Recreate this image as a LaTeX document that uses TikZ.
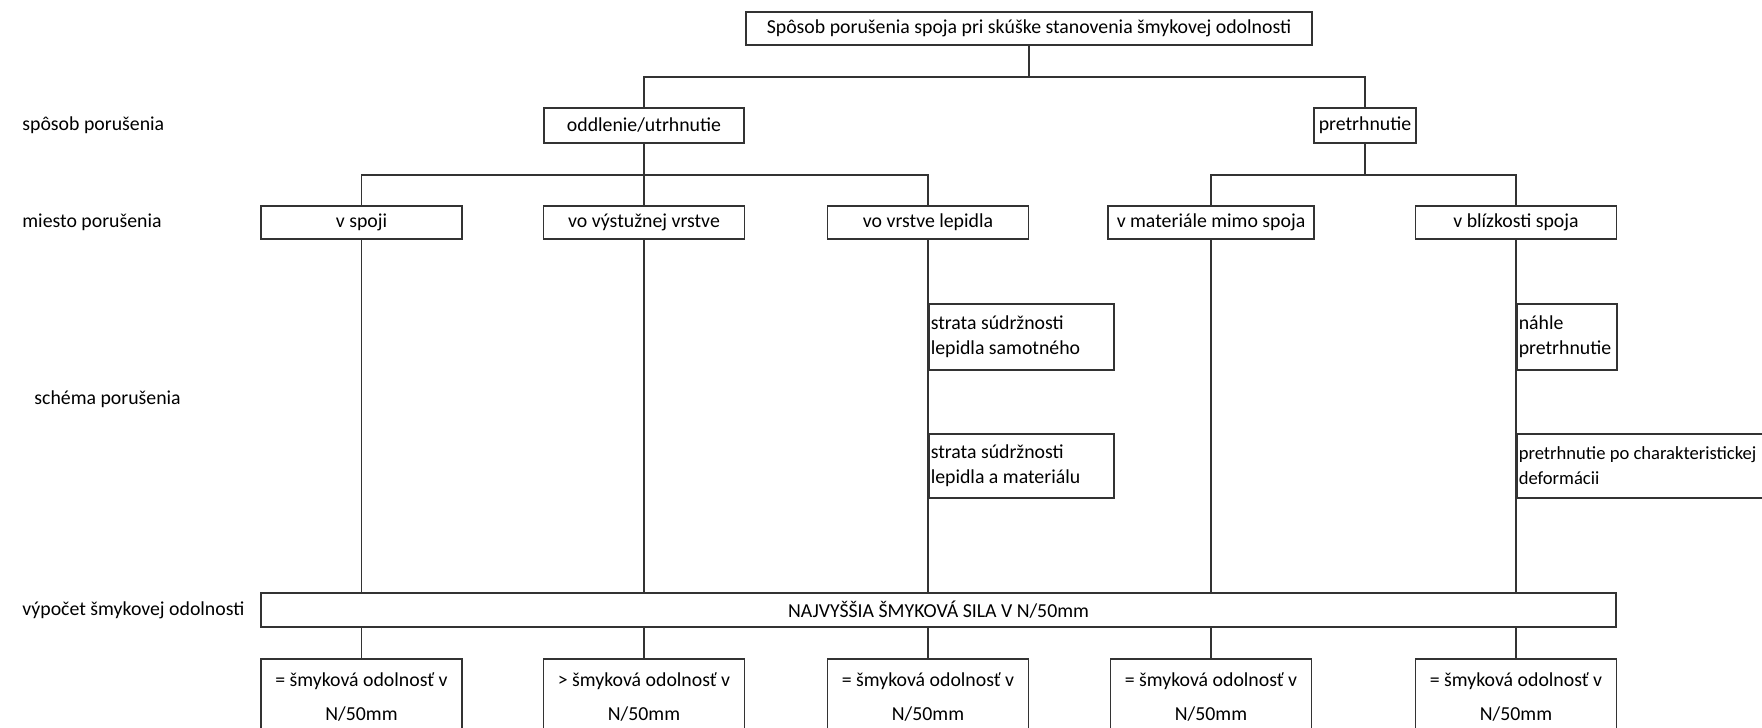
\documentclass[tikz,border=0pt]{standalone}
\usepackage{fontspec}
\setmainfont{Carlito}
\usetikzlibrary{positioning}
\tikzstyle{box}=[draw=black!80, line width=0.75pt, inner sep=1pt, font=\fontsize{9.9}{12.5}\selectfont]
\tikzstyle{cbox}=[box, minimum height=16.5pt, minimum width=100.5pt]
\tikzstyle{tbox}=[box, anchor=north west, align=flush left, minimum height=33pt]
\tikzstyle{rbox}=[box, anchor=north, align=center, minimum height=38pt, minimum width=100.5pt]
\tikzstyle{link}=[draw=black!80, line width=0.75pt]
\tikzstyle{rowlabel}=[anchor=west, inner sep=0pt, font=\fontsize{9.9}{12.5}\selectfont]

\begin{document}
\begin{tikzpicture}[x=0.5pt,y=-0.5pt]
        \clip (0,0) rectangle (1762,728);
        % \draw[help lines] (0,0) grid[step=100] (1762,728);

        \node[rowlabel] (l1) at (22,125) {spôsob porušenia};
        \node[rowlabel] (l2) at (22,222) {miesto porušenia};
        \node[rowlabel] (l3) at (34,399) {schéma porušenia};
        \node[rowlabel] (l4) at (22,610) {výpočet šmykovej odolnosti};

        \node[box, minimum width=283pt, minimum height=16.5pt] (top) at (1029,28.5) {Spôsob porušenia spoja pri skúške stanovenia šmykovej odolnosti};

        \node[box, minimum width=100pt, minimum height=17.5pt] (odd) at (644,125.5) {oddlenie/utrhnutie};
        \node[box, minimum width=51pt, minimum height=17.5pt] (pre) at (1365,125.5) {pretrhnutie};

        \node[cbox] (spoji) at (361.5,222.5) {v spoji};
        \node[cbox] (vyst) at (644,222.5) {vo výstužnej vrstve};
        \node[cbox] (lep) at (928,222.5) {vo vrstve lepidla};
        \node[cbox, minimum width=103pt] (mat) at (1211,222.5) {v materiále mimo spoja};
        \node[cbox] (bliz) at (1516,222.5) {v blízkosti spoja};

        \node[tbox, text width=90.5pt] (str1) at (928,303) {strata súdržnosti\\lepidla samotného};
        \node[tbox, text width=90.5pt, minimum height=32pt] (str2) at (928,433) {strata súdržnosti\\lepidla a materiálu};
        \node[tbox, text width=48pt] (nah) at (1516,303) {náhle\\pretrhnutie};
        \node[tbox, text width=135pt, minimum height=32pt, font=\fontsize{9.3}{12.5}\selectfont] (def) at (1516,433) {pretrhnutie po charakteristickej\\deformácii};

        \node[box, minimum width=677.5pt, minimum height=17pt] (naj) at (938.5,610) {NAJVYŠŠIA ŠMYKOVÁ SILA V N/50mm};

        \node[rbox] (r1) at (361.5,658) {= šmyková odolnosť v\\[4.5pt]N/50mm};
        \node[rbox] (r2) at (644,658) {> šmyková odolnosť v\\[4.5pt]N/50mm};
        \node[rbox] (r3) at (928,658) {= šmyková odolnosť v\\[4.5pt]N/50mm};
        \node[rbox] (r4) at (1211,658) {= šmyková odolnosť v\\[4.5pt]N/50mm};
        \node[rbox] (r5) at (1516,658) {= šmyková odolnosť v\\[4.5pt]N/50mm};

        \draw[link] (top.south) -- ++(0,31) -| (odd.north);
        \draw[link] (top.south) -- ++(0,31) -| (pre.north);
        \draw[link] (odd.south) -- ++(0,31) -| (spoji.north);
        \draw[link] (odd.south) -- (vyst.north);
        \draw[link] (odd.south) -- ++(0,31) -| (lep.north);
        \draw[link] (pre.south) -- ++(0,31) -| (mat.north);
        \draw[link] (pre.south) -- ++(0,31) -| (bliz.north);

        \foreach \a/\b in {spoji/r1, vyst/r2, lep/r3, mat/r4, bliz/r5} {
            \draw[link] (\a.south) -- (\a.south |- naj.north);
            \draw[link] (\b.north |- naj.south) -- (\b.north);
        }

\end{tikzpicture}
\end{document}
